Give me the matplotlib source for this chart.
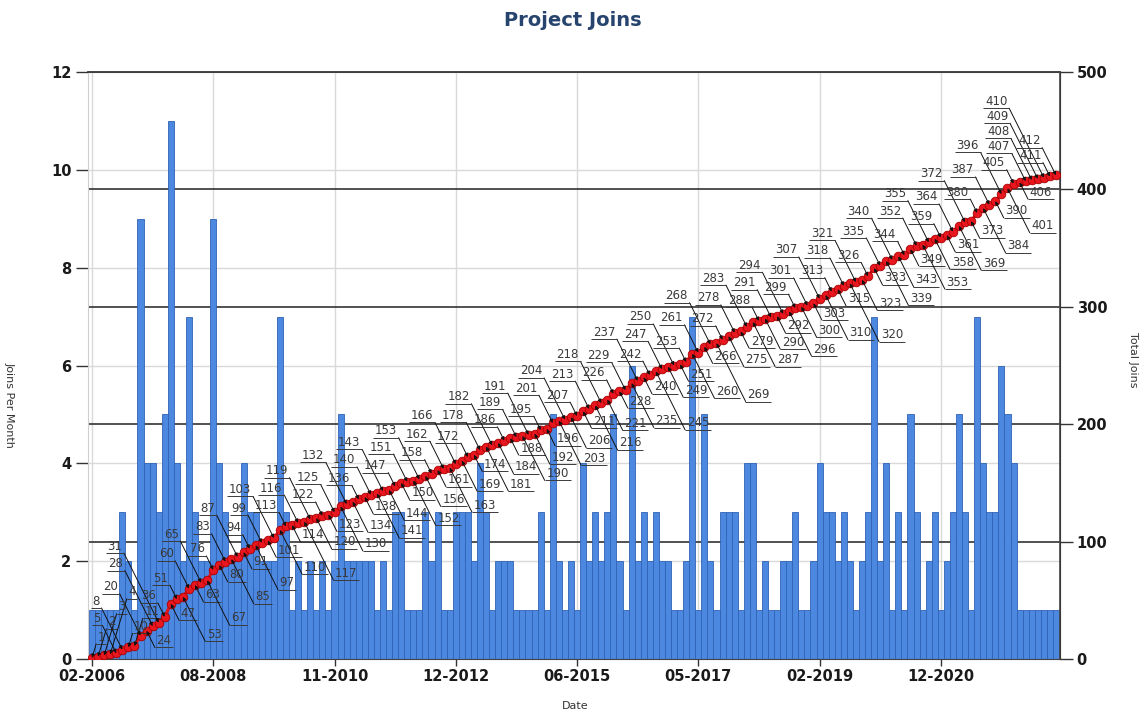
import numpy as np
import matplotlib
matplotlib.use("Agg")
import matplotlib.pyplot as plt
from matplotlib import transforms

# ---- data (monthly joins, one bar per month with joins) ----
joins_a = [1, 1, 1, 1, 1, 3, 2, 1, 9, 4, 4, 3, 5, 11, 4, 2, 7, 3, 2, 2, 9]
joins_b = [4, 3, 2, 2, 4, 3, 3, 2, 2, 2, 7, 3, 1, 2, 1, 2, 1, 2, 1, 2]
joins_c = [5, 2, 2, 2, 2, 2, 1, 2, 1, 3, 3, 1, 1, 1, 3, 2, 3, 1, 1, 3]
joins_d = [3, 3, 2, 4, 3, 1, 2, 2, 2, 1, 1, 1, 1, 3, 1, 5, 2, 1, 2, 1]
joins_e = [4, 2, 3, 2, 3, 5, 2, 1, 6, 2, 3, 2, 3, 2, 2, 1, 1, 2, 7, 1]
joins_f = [5, 2, 1, 3, 3, 3, 1, 4, 4, 1, 2, 1, 1, 2, 2, 3, 1, 1, 2, 4]
joins_g = [3, 3, 2, 3, 2, 1, 2, 3, 7, 2, 4, 1, 3, 1, 5, 3, 1, 2, 3, 1]
joins_h = [2, 3, 5, 3, 1, 7, 4, 3, 3, 6, 5, 4, 1, 1, 1, 1, 1, 1, 1]
joins = joins_a + joins_b + joins_c + joins_d + joins_e + joins_f + joins_g + joins_h

date_labels = ["02-2006", "08-2008", "11-2010", "12-2012",
               "06-2015", "05-2017", "02-2019", "12-2020"]
label_step = 20

total = np.cumsum(joins)
x = np.arange(len(joins))
n = len(joins)

W, H = 1145, 712
DPI = 100
fig = plt.figure(figsize=(W / DPI, H / DPI), dpi=DPI)
ax = fig.add_axes([88 / W, 1 - 659 / H, (1060 - 88) / W, (659 - 72) / H])
ax2 = ax.twinx()

# axes limits / ticks
ax.set_xlim(-0.66, n - 0.34)
ax.set_ylim(0, 12)
ax2.set_ylim(0, 500)
ax.set_yticks(np.arange(0, 13, 2))
ax2.set_yticks(np.arange(0, 501, 100))
tick_pos = np.arange(len(date_labels)) * label_step
ax.set_xticks(tick_pos)
ax.set_xticklabels(date_labels)

for lab in ax.get_xticklabels() + ax.get_yticklabels() + ax2.get_yticklabels():
    lab.set_fontsize(10.5)
    lab.set_fontweight("bold")
    lab.set_color("#1a1a1a")

ax.tick_params(axis="y", length=9, width=1, color="#333333", pad=3)
ax2.tick_params(axis="y", length=9, width=1, color="#333333", pad=3)
ax.tick_params(axis="x", length=5, width=1, color="#333333", pad=2)

# light grid (left axis + x ticks)
ax.set_axisbelow(True)
ax.grid(True, color="#d9d9d9", linewidth=1.0, zorder=0)

# dark horizontal lines at the right-axis ticks (behind bars)
blend = transforms.blended_transform_factory(ax.transAxes, ax2.transData)
for v in ax2.get_yticks()[1:-1]:
    ax.plot([0, 1], [v, v], transform=blend, color="#222222", lw=1.1, zorder=1)

# spines
ax.spines["top"].set_color("#222222")
ax.spines["top"].set_linewidth(1.2)
ax.spines["left"].set_color("#cfcfcf")
ax.spines["bottom"].set_color("#444444")
ax2.spines["right"].set_color("#444444")
ax2.spines["right"].set_linewidth(1.2)
for s in ["top", "left", "bottom"]:
    ax2.spines[s].set_visible(False)

# bars
ax.bar(x, joins, width=1.0, color="#4C88E0", edgecolor="#2F62B5",
       linewidth=0.6, zorder=2)

# cumulative line
ax2.plot(x, total, "-", color="#E0141C", lw=2.2, zorder=3)
ax2.plot(x, total, "o", ms=6.2, mfc="#E8161E", mec="#A80000", mew=0.6, zorder=4)

# ---- callout labels: greedy placement avoiding overlaps ----
fs = 8.5
lc = "#3a3a3a"
k = DPI / 72.0
bb = ax.get_window_extent()
a_l, a_b, a_r, a_t = bb.x0, bb.y0, bb.x1, bb.y1
up = [(-0.5 * d, d, -1) for d in (10, 20, 30, 40, 50, 60)]
down_r = [(0.5 * d, -d, 1) for d in (12, 22, 32, 42, 52)]
down_l = [(-0.3 * d, -d, -1) for d in (12, 22, 32, 42, 52)]
up_r = [(0.3 * d, d, 1) for d in (10, 20, 30, 40)]
placed = []


def overlap(b1, b2):
    wx = min(b1[2], b2[2]) - max(b1[0], b2[0])
    wy = min(b1[3], b2[3]) - max(b1[1], b2[1])
    return wx * wy if (wx > 0 and wy > 0) else 0.0


for j, c in enumerate(total):
    px, py = ax2.transData.transform((j, c))
    txt = str(int(c))
    w = len(txt) * 5.5 + 2
    if j % 2 == 0:
        cands = up + down_r + down_l + up_r
    else:
        cands = down_r + up + down_l + up_r
    best, best_ov = None, None
    for dx, dy, s in cands:
        ex, ey = px + dx * k, py + dy * k
        x0 = ex - w * k if s < 0 else ex
        box = (x0 - 1, ey - 1, x0 + w * k + 1, ey + 12.5)
        if box[0] < a_l + 1 or box[2] > a_r - 1 or box[1] < a_b + 1 or box[3] > a_t - 2:
            continue
        ov = sum(overlap(box, p) for p in placed)
        if best is None or ov < best_ov:
            best, best_ov = (dx, dy, s, box), ov
        if ov == 0:
            break
    dx, dy, s, box = best
    placed.append(box)

    ax2.annotate("", xy=(j, c), xytext=(dx, dy), textcoords="offset points",
                 arrowprops=dict(arrowstyle="-|>", color="#111111", lw=0.7,
                                 mutation_scale=5, shrinkA=0, shrinkB=0),
                 zorder=5)
    ul = transforms.offset_copy(ax2.transData, fig=fig, x=dx + s * w / 2,
                                y=dy, units="points")
    ax2.plot([j], [c], marker="_", ms=w, mew=0.7, color=lc,
             transform=ul, zorder=5)
    ax2.annotate(txt, xy=(j, c), xytext=(dx + s * w / 2, dy + 0.3),
                 textcoords="offset points", ha="center", va="bottom",
                 fontsize=fs, color=lc, zorder=6)

# titles
fig.text(0.5, 1 - 20 / H, "Project Joins", ha="center", va="center",
         fontsize=14, fontweight="bold", color="#26446E")
fig.text(575 / W, 1 - 706 / H, "Date", ha="center", va="center",
         fontsize=8, color="#333333")
fig.text(10 / W, 1 - 405 / H, "Joins Per Month", ha="center", va="center",
         rotation=270, fontsize=8, color="#333333")
fig.text(1133 / W, 1 - 360 / H, "Total Joins", ha="center", va="center",
         rotation=270, fontsize=8, color="#333333")

fig.savefig("out.png", dpi=DPI)
